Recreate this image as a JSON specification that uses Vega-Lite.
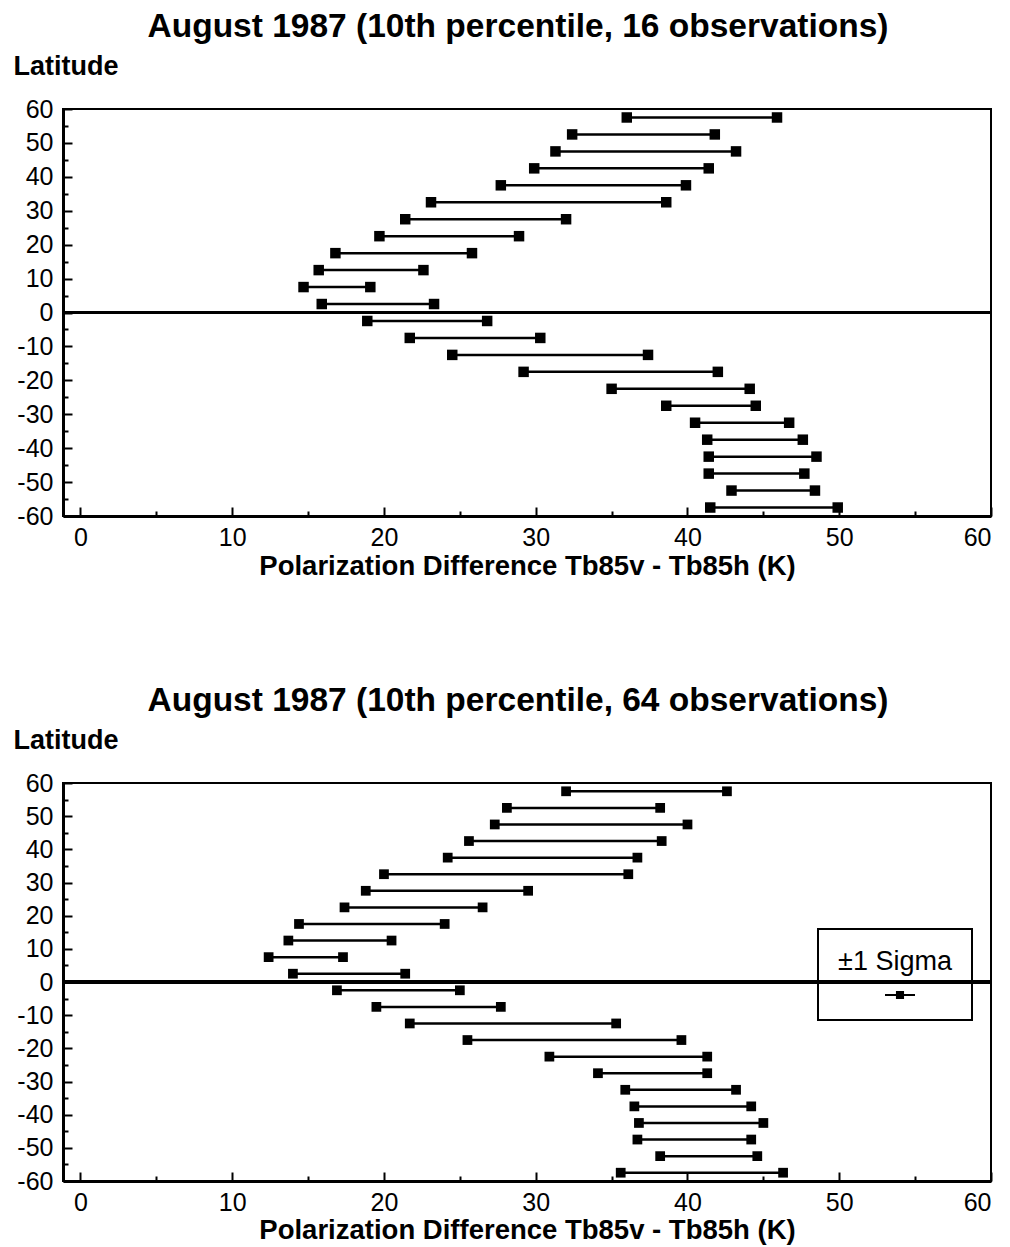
{
  "$schema": "https://vega.github.io/schema/vega-lite/v6.json",
  "background": "white",
  "padding": {"left": 12, "top": 8, "right": 0, "bottom": 0},
  "datasets": {
    "p16": [
      {"lat": 57.5, "low": 36.0, "high": 45.9},
      {"lat": 52.5, "low": 32.4, "high": 41.8},
      {"lat": 47.5, "low": 31.3, "high": 43.2},
      {"lat": 42.5, "low": 29.9, "high": 41.4},
      {"lat": 37.5, "low": 27.7, "high": 39.9},
      {"lat": 32.5, "low": 23.1, "high": 38.6},
      {"lat": 27.5, "low": 21.4, "high": 32.0},
      {"lat": 22.5, "low": 19.7, "high": 28.9},
      {"lat": 17.5, "low": 16.8, "high": 25.8},
      {"lat": 12.5, "low": 15.7, "high": 22.6},
      {"lat": 7.5, "low": 14.7, "high": 19.1},
      {"lat": 2.5, "low": 15.9, "high": 23.3},
      {"lat": -2.5, "low": 18.9, "high": 26.8},
      {"lat": -7.5, "low": 21.7, "high": 30.3},
      {"lat": -12.5, "low": 24.5, "high": 37.4},
      {"lat": -17.5, "low": 29.2, "high": 42.0},
      {"lat": -22.5, "low": 35.0, "high": 44.1},
      {"lat": -27.5, "low": 38.6, "high": 44.5},
      {"lat": -32.5, "low": 40.5, "high": 46.7},
      {"lat": -37.5, "low": 41.3, "high": 47.6},
      {"lat": -42.5, "low": 41.4, "high": 48.5},
      {"lat": -47.5, "low": 41.4, "high": 47.7},
      {"lat": -52.5, "low": 42.9, "high": 48.4},
      {"lat": -57.5, "low": 41.5, "high": 49.9}
    ],
    "p64": [
      {"lat": 57.5, "low": 32.0, "high": 42.6},
      {"lat": 52.5, "low": 28.1, "high": 38.2},
      {"lat": 47.5, "low": 27.3, "high": 40.0},
      {"lat": 42.5, "low": 25.6, "high": 38.3},
      {"lat": 37.5, "low": 24.2, "high": 36.7},
      {"lat": 32.5, "low": 20.0, "high": 36.1},
      {"lat": 27.5, "low": 18.8, "high": 29.5},
      {"lat": 22.5, "low": 17.4, "high": 26.5},
      {"lat": 17.5, "low": 14.4, "high": 24.0},
      {"lat": 12.5, "low": 13.7, "high": 20.5},
      {"lat": 7.5, "low": 12.4, "high": 17.3},
      {"lat": 2.5, "low": 14.0, "high": 21.4},
      {"lat": -2.5, "low": 16.9, "high": 25.0},
      {"lat": -7.5, "low": 19.5, "high": 27.7},
      {"lat": -12.5, "low": 21.7, "high": 35.3},
      {"lat": -17.5, "low": 25.5, "high": 39.6},
      {"lat": -22.5, "low": 30.9, "high": 41.3},
      {"lat": -27.5, "low": 34.1, "high": 41.3},
      {"lat": -32.5, "low": 35.9, "high": 43.2},
      {"lat": -37.5, "low": 36.5, "high": 44.2},
      {"lat": -42.5, "low": 36.8, "high": 45.0},
      {"lat": -47.5, "low": 36.7, "high": 44.2},
      {"lat": -52.5, "low": 38.2, "high": 44.6},
      {"lat": -57.5, "low": 35.6, "high": 46.3}
    ]
  },
  "spacing": 101,
  "vconcat": [
    {
      "width": 928,
      "height": 407,
      "data": {"name": "p16"},
      "title": {"text": "August 1987 (10th percentile, 16 observations)", "dx": -9},
      "resolve": {"axis": {"x": "independent", "y": "independent"}},
      "layer": [
        {
          "mark": {"type": "rule", "color": "black", "strokeWidth": 2.5},
          "encoding": {
            "x": {"field": "low", "type": "quantitative", "scale": {"domain": [-1.15, 60], "nice": false, "zero": false},
              "axis": {"values": [0, 10, 20, 30, 40, 50, 60], "title": "Polarization Difference Tb85v - Tb85h (K)", "orient": "bottom"}},
            "x2": {"field": "high"},
            "y": {"field": "lat", "type": "quantitative", "scale": {"domain": [-60, 60], "nice": false},
              "axis": {"values": [-60, -50, -40, -30, -20, -10, 0, 10, 20, 30, 40, 50, 60], "title": "Latitude", "orient": "left"}}
          }
        },
        {
          "mark": {"type": "point", "shape": "square", "filled": true, "color": "black", "size": 110, "opacity": 1},
          "encoding": {
            "x": {"field": "low", "type": "quantitative", "axis": {"orient": "bottom", "values": [5, 15, 25, 35, 45, 55], "labels": false, "domain": false, "tickSize": -5, "title": null}},
            "y": {"field": "lat", "type": "quantitative", "axis": {"orient": "left", "values": [-55, -45, -35, -25, -15, -5, 5, 15, 25, 35, 45, 55], "labels": false, "domain": false, "tickSize": -5, "title": null}}
          }
        },
        {
          "mark": {"type": "point", "shape": "square", "filled": true, "color": "black", "size": 110, "opacity": 1},
          "encoding": {
            "x": {"field": "high", "type": "quantitative", "axis": null},
            "y": {"field": "lat", "type": "quantitative", "axis": null}
          }
        },
        {
          "mark": {"type": "rule", "color": "black", "strokeWidth": 3},
          "encoding": {"y": {"datum": 0, "type": "quantitative", "axis": null}}
        }
      ]
    },
    {
      "width": 928,
      "height": 398,
      "data": {"name": "p64"},
      "title": {"text": "August 1987 (10th percentile, 64 observations)", "dx": -9},
      "resolve": {"axis": {"x": "independent", "y": "independent"}},
      "layer": [
        {
          "mark": {"type": "rule", "color": "black", "strokeWidth": 2.5},
          "encoding": {
            "x": {"field": "low", "type": "quantitative", "scale": {"domain": [-1.15, 60], "nice": false, "zero": false},
              "axis": {"values": [0, 10, 20, 30, 40, 50, 60], "title": "Polarization Difference Tb85v - Tb85h (K)", "orient": "bottom", "titlePadding": 1}},
            "x2": {"field": "high"},
            "y": {"field": "lat", "type": "quantitative", "scale": {"domain": [-60, 60], "nice": false},
              "axis": {"values": [-60, -50, -40, -30, -20, -10, 0, 10, 20, 30, 40, 50, 60], "title": "Latitude", "orient": "left"}}
          }
        },
        {
          "mark": {"type": "point", "shape": "square", "filled": true, "size": 95, "opacity": 1},
          "encoding": {
            "x": {"field": "low", "type": "quantitative", "axis": {"orient": "bottom", "values": [5, 15, 25, 35, 45, 55], "labels": false, "domain": false, "tickSize": -5, "title": null}},
            "y": {"field": "lat", "type": "quantitative", "axis": {"orient": "left", "values": [-55, -45, -35, -25, -15, -5, 5, 15, 25, 35, 45, 55], "labels": false, "domain": false, "tickSize": -5, "title": null}},
            "color": {"datum": "±1 Sigma", "type": "nominal", "scale": {"range": ["black"]},
              "legend": {"title": "±1 Sigma", "orient": "none", "legendX": 755, "legendY": 820, "direction": "vertical",
                "strokeColor": "black", "padding": 20, "titleFontSize": 27, "titleFontWeight": "normal", "titleAnchor": "middle", "titlePadding": 4,
                "labelExpr": "''", "labelFontSize": 1, "labelOffset": 0, "symbolType": "M-1,-0.06H1V0.06H-1Z M-0.27,-0.27H0.27V0.27H-0.27Z", "symbolSize": 900,
                "symbolFillColor": "black", "symbolStrokeWidth": 0, "symbolOffset": 10}}
          }
        },
        {
          "mark": {"type": "point", "shape": "square", "filled": true, "color": "black", "size": 95, "opacity": 1},
          "encoding": {
            "x": {"field": "high", "type": "quantitative", "axis": null},
            "y": {"field": "lat", "type": "quantitative", "axis": null}
          }
        },
        {
          "mark": {"type": "rule", "color": "black", "strokeWidth": 3},
          "encoding": {"y": {"datum": 0, "type": "quantitative", "axis": null}}
        }
      ]
    }
  ],
  "config": {
    "font": "Liberation Sans",
    "view": {"stroke": "black", "strokeWidth": 2},
    "title": {"fontSize": 33.5, "fontWeight": "bold", "color": "black", "anchor": "middle", "offset": 8},
    "legend": {"strokeWidth": 2},
    "axis": {
      "grid": false,
      "domainColor": "black",
      "domainWidth": 3,
      "tickColor": "black",
      "tickWidth": 2,
      "tickSize": -9,
      "labelColor": "black",
      "labelFontSize": 25,
      "labelExpr": "datum.value < 0 ? '-' + abs(datum.value) : '' + datum.value",
      "titleColor": "black",
      "titleFontWeight": "bold"
    },
    "axisBottom": {"labelPadding": 18, "titleFontSize": 27.5, "titlePadding": 2},
    "axisLeft": {"labelPadding": 19, "titleFontSize": 27, "titleAngle": 0, "titleX": -50, "titleY": -35, "titleAlign": "left", "titleBaseline": "alphabetic"}
  }
}
